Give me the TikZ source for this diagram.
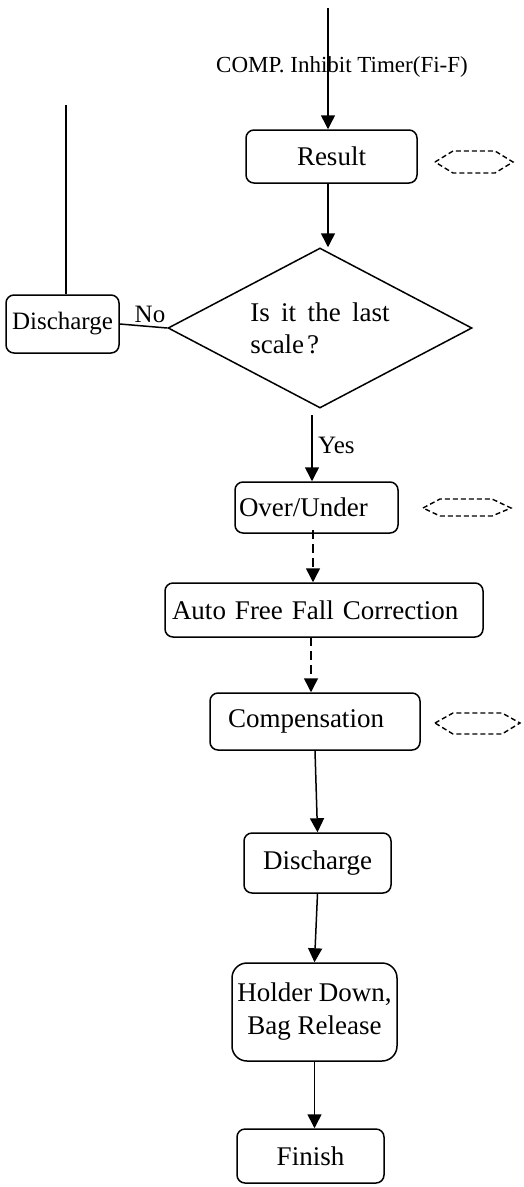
\documentclass[tikz,border=0pt]{standalone}
\usepackage{fontspec}
\setmainfont{Liberation Serif}
\usetikzlibrary{arrows.meta,shapes.geometric,calc}
\newcommand\decfont{\fontsize{27}{32}\selectfont\spaceskip=11.5pt plus 1pt\relax}
\begin{document}
\begin{tikzpicture}[x=1pt,y=-1pt,
  box/.style={draw,line width=1.5pt,rounded corners=8pt,inner sep=0pt,font=\fontsize{27}{33}\selectfont},
  arr/.style={line width=1.5pt,-{Triangle[width=14pt,length=14pt]}},
  dasharr/.style={arr,dash pattern=on 9pt off 5pt},
  plain/.style={line width=1.5pt},
  hexa/.style={line width=1.4pt,dash pattern=on 5pt off 3pt},
  lbl/.style={inner sep=0pt,anchor=base,font=\fontsize{25}{30}\selectfont}]
\useasboundingbox (0,0) rectangle (523,1187);

% nodes
\node[box,minimum width=171pt,minimum height=53pt] (result) at (331.5,156.5) {Result};
\node[draw,diamond,line width=1.5pt,minimum width=304pt,minimum height=160pt,inner sep=0pt,shape aspect=1.9,align=left,
      font=\decfont] (d) at (320,328) {Is it the last\\scale\kern3pt?};
\node[box,font=\fontsize{25}{30}\selectfont,minimum width=113pt,minimum height=58pt] (dis1) at (62.5,324) {Discharge};
\node[box,minimum height=51pt,text width=155pt,inner xsep=4pt,align=left] (over) at (316.5,507.5) {Over/Under};
\node[box,minimum height=54pt,text width=304pt,inner xsep=7pt,align=left] (auto) at (324,610) {Auto Free Fall Correction};
\node[box,minimum height=57pt,text width=174pt,inner xsep=18pt,align=left] (comp) at (315,721.5) {Compensation};
\node[box,minimum width=147pt,minimum height=60pt] (dis2) at (317.5,863) {Discharge};
\node[box,rounded corners=15pt,minimum width=165pt,minimum height=98pt,align=center] (holder) at (314.5,1012) {Holder Down,\\Bag Release};
\node[box,minimum width=147pt,minimum height=54pt] (finish) at (310.5,1156) {Finish};

% labels
\node[lbl,font=\fontsize{23}{28}\selectfont] (toplbl) at (342,72) {COMP. Inhibit Timer(Fi-F)};
\node[lbl] (no) at (150,322) {No};
\node[lbl,anchor=base west] (yes) at (318,453) {Yes};

% coordinates
\coordinate (top) at (328,8);
\coordinate (lefttop) at (66,105);
\coordinate (yesstart) at (312,415);
\coordinate (dstart1) at (313,530);
\coordinate (dstart2) at (311,637);

% connectors
\draw[arr] (top) -- (top |- result.north);
\draw[arr] (top |- result.south) -- (top |- d.north);
\draw[plain] (lefttop) -- (lefttop |- dis1.north);
\draw[plain] (d.west) -- (dis1.east);
\draw[arr] (yesstart) -- (yesstart |- over.north);
\draw[dasharr] (dstart1) -- (dstart1 |- auto.north);
\draw[dasharr] (dstart2) -- (dstart2 |- comp.north);
\draw[arr] (comp.south) -- (dis2.north);
\draw[arr] (dis2.south) -- (holder.north);
\draw[arr] (holder.south) -- (holder.south |- finish.north);

% dashed hexagons
\draw[hexa] (435,162) -- (453,151) -- (495,151) -- (513,162) -- (495,173) -- (453,173) -- cycle;
\draw[hexa] (423,508) -- (440,499) -- (492,499) -- (511,508) -- (492,516) -- (440,516) -- cycle;
\draw[hexa] (435,723) -- (453,713) -- (502,713) -- (520,723) -- (502,734) -- (453,734) -- cycle;
\end{tikzpicture}
\end{document}
